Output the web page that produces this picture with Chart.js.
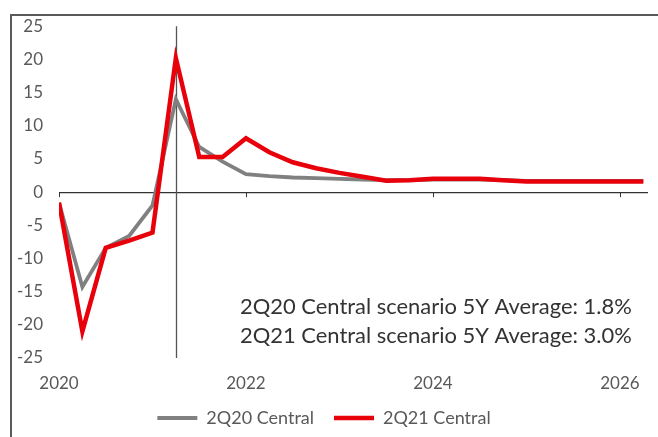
<!DOCTYPE html>
<html>
<head>
<meta charset="utf-8">
<script src="https://cdn.jsdelivr.net/npm/chart.js@4.4.1/dist/chart.umd.min.js"></script>
<style>
  html, body { margin: 0; padding: 0; background: #ffffff; }
  #wrap { width: 658px; height: 437px; position: relative; }
</style>
</head>
<body>
<div id="wrap"><canvas id="c" width="658" height="437"></canvas></div>
<script>
// ---- data ----
const quarters = ["2020Q1","2020Q2","2020Q3","2020Q4","2021Q1","2021Q2","2021Q3","2021Q4",
  "2022Q1","2022Q2","2022Q3","2022Q4","2023Q1","2023Q2","2023Q3","2023Q4",
  "2024Q1","2024Q2","2024Q3","2024Q4","2025Q1","2025Q2","2025Q3","2025Q4",
  "2026Q1","2026Q2"];
const central2Q20 = [-1.6, -14.3, -8.4, -6.6, -2.0, 14.0, 6.8, 4.6, 2.7, 2.4, 2.2, 2.1, 2.0, 1.9,
  1.8, 1.8, 1.9, 1.9, 1.9, 1.8, 1.7, 1.7, 1.7, 1.7, 1.7, 1.7];
const central2Q21 = [-1.6, -21.0, -8.4, -7.3, -6.1, 20.2, 5.3, 5.3, 8.1, 6.0, 4.5, 3.6, 2.9, 2.3,
  1.7, 1.8, 2.0, 2.0, 2.0, 1.8, 1.6, 1.6, 1.6, 1.6, 1.6, 1.6];
const seriesNames = ["2Q20 Central", "2Q21 Central"];
const xTickYears = [2020, 2022, 2024, 2026];
const yTicks = [25, 20, 15, 10, 5, 0, -5, -10, -15, -20, -25];
const markerQuarter = "2021Q2";
const notes = ["2Q20 Central scenario 5Y Average: 1.8%", "2Q21 Central scenario 5Y Average: 3.0%"];

function qToNum(q) { return parseInt(q.slice(0, 4)) + (parseInt(q.slice(5)) - 1) / 4; }
const toPts = arr => arr.map((v, i) => ({ x: qToNum(quarters[i]), y: v }));

const FONT = "Lato, 'Open Sans', sans-serif";

const decor = {
  id: 'decor',
  beforeDraw(chart) {
    const ctx = chart.ctx;
    ctx.save();
    ctx.fillStyle = '#ffffff';
    ctx.fillRect(0, 0, chart.width, chart.height);
    ctx.restore();
  },
  beforeDatasetsDraw(chart) {
    const { ctx, scales: { x, y } } = chart;
    const y0 = y.getPixelForValue(0);
    ctx.save();
    ctx.strokeStyle = '#333';
    ctx.lineWidth = 1;
    xTickYears.forEach(v => {
      const px = Math.round(x.getPixelForValue(v)) + 0.5;
      ctx.beginPath(); ctx.moveTo(px, y0); ctx.lineTo(px, y0 + 5); ctx.stroke();
    });
    const mx = Math.round(x.getPixelForValue(qToNum(markerQuarter))) + 0.5;
    ctx.strokeStyle = '#555';
    ctx.lineWidth = 1.3;
    ctx.beginPath();
    ctx.moveTo(mx, y.getPixelForValue(25));
    ctx.lineTo(mx, y.getPixelForValue(-25));
    ctx.stroke();
    ctx.restore();
  },
  afterDraw(chart) {
    const ctx = chart.ctx;
    ctx.save();
    ctx.strokeStyle = '#5a5a5a';
    ctx.lineWidth = 2;
    ctx.beginPath();
    ctx.moveTo(11, chart.height);
    ctx.lineTo(11, 15);
    ctx.lineTo(chart.width, 15);
    ctx.stroke();
    let size = 22;
    ctx.font = size + 'px ' + FONT;
    const w = ctx.measureText(notes[0]).width;
    size = size * 392 / w;
    ctx.font = size + 'px ' + FONT;
    ctx.fillStyle = '#333333';
    ctx.textBaseline = 'alphabetic';
    ctx.textAlign = 'left';
    ctx.fillText(notes[0], 240, 314);
    ctx.fillText(notes[1], 240, 343);
    ctx.restore();
  }
};

new Chart(document.getElementById('c'), {
  type: 'line',
  data: {
    datasets: [
      { label: seriesNames[0], data: toPts(central2Q20), borderColor: '#808080', backgroundColor: '#808080',
        borderWidth: 3.8, pointRadius: 0, tension: 0, order: 1 },
      { label: seriesNames[1], data: toPts(central2Q21), borderColor: '#e8000b', backgroundColor: '#e8000b',
        borderWidth: 4.5, pointRadius: 0, tension: 0, order: 0 }
    ]
  },
  options: {
    responsive: false,
    animation: false,
    events: [],
    layout: { padding: { top: 26, right: 10, left: 0, bottom: 0 } },
    plugins: {
      tooltip: { enabled: false },
      legend: {
        position: 'bottom',
        labels: {
          usePointStyle: true,
          pointStyle: 'line',
          pointStyleWidth: 40,
          padding: 20,
          color: '#595959',
          font: { family: FONT, size: 18 },
          sort: (a, b) => a.datasetIndex - b.datasetIndex
        }
      }
    },
    scales: {
      x: {
        type: 'linear',
        min: 2020,
        max: 2026.3,
        afterBuildTicks: s => { s.ticks = xTickYears.map(v => ({ value: v })); },
        afterFit: s => { s.height = 31; },
        grid: { display: false, drawTicks: false },
        border: { display: false },
        ticks: {
          padding: 15,
          color: '#595959',
          font: { family: FONT, size: 17 },
          maxRotation: 0,
          autoSkip: false,
          callback: v => String(v)
        }
      },
      y: {
        min: -25,
        max: 25,
        afterBuildTicks: s => { s.ticks = yTicks.map(v => ({ value: v })); },
        afterFit: s => { s.width = 59; },
        border: { display: false },
        grid: {
          drawTicks: false,
          color: c => (c.tick && c.tick.value === 0) ? '#333333' : 'rgba(0,0,0,0)',
          lineWidth: 1.2
        },
        ticks: {
          padding: 16,
          color: '#595959',
          font: { family: FONT, size: 17 },
          callback: v => String(v)
        }
      }
    }
  },
  plugins: [decor]
});
</script>
</body>
</html>
